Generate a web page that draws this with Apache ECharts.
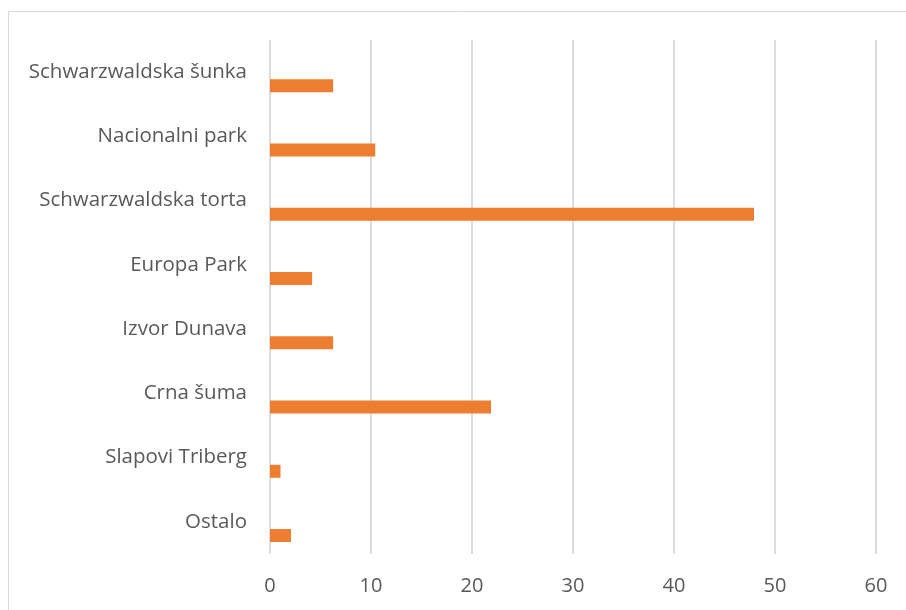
<!DOCTYPE html>
<html>
<head>
<meta charset="utf-8">
<script src="https://cdn.jsdelivr.net/npm/echarts@6/dist/echarts.min.js"></script>
<style>
  html, body { margin: 0; padding: 0; background: #fff; }
  #chart { width: 906px; height: 610px; }
</style>
</head>
<body>
<div id="chart"></div>
<script>
const categories = ['Ostalo', 'Slapovi Triberg', 'Crna šuma', 'Izvor Dunava', 'Europa Park',
    'Schwarzwaldska torta', 'Nacionalni park', 'Schwarzwaldska šunka'];
const values = [2.08, 1.04, 21.88, 6.25, 4.17, 47.92, 10.42, 6.25];
const emptyValues = categories.map(() => null);

const myChart = echarts.init(document.getElementById('chart'));

const textColor = '#595959';
const fontFamily = '"Open Sans", Lato, sans-serif';

const option = {
    backgroundColor: '#fff',
    animation: false,
    graphic: [{
        type: 'rect',
        shape: {x: 8.5, y: 11.5, width: 1000, height: 1000},
        style: {fill: 'none', stroke: '#d9d9d9', lineWidth: 1}
    }],
    grid: {left: 270, right: 30, top: 40, bottom: 56},
    xAxis: {
        type: 'value',
        min: 0,
        max: 60,
        interval: 10,
        axisLine: {show: false},
        axisTick: {show: false},
        axisLabel: {color: textColor, fontSize: 20, fontFamily: fontFamily, margin: 22},
        splitLine: {lineStyle: {color: '#dcdcdc', width: 2}}
    },
    yAxis: {
        type: 'category',
        data: categories,
        axisLine: {show: false},
        axisTick: {show: false},
        axisLabel: {color: textColor, fontSize: 20.5, fontFamily: fontFamily, margin: 23}
    },
    series: [
        {type: 'bar', data: emptyValues, barWidth: 13, barGap: '5%'},
        {type: 'bar', data: emptyValues, barWidth: 13, barGap: '5%'},
        {
            type: 'bar',
            data: values,
            barWidth: 13,
            barGap: '5%',
            itemStyle: {color: '#ED7D31'}
        }
    ]
};

myChart.setOption(option);
</script>
</body>
</html>
